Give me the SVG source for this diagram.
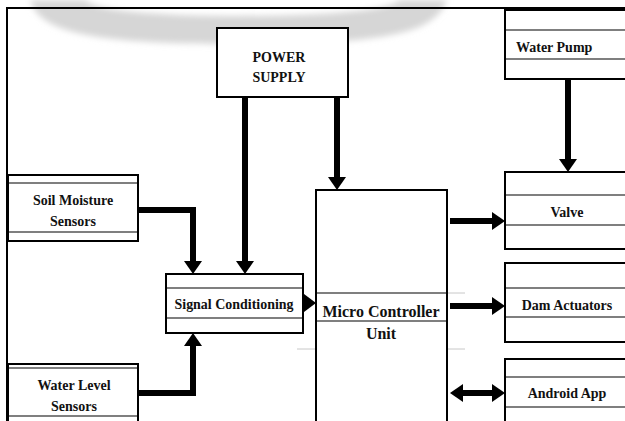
<svg xmlns="http://www.w3.org/2000/svg" width="625" height="421" viewBox="0 0 625 421">
<style>
.box{fill:#fff;stroke:#000;stroke-width:2}
.in{stroke:#000;stroke-width:1.2;fill:none}
.faint{stroke:#c8c8c8;stroke-width:1;fill:none}
.t{font-family:"Liberation Serif","Times New Roman",serif;font-weight:bold;font-size:14px;fill:#111;text-anchor:middle}
.big{font-size:16px}
.con{stroke:#000;stroke-width:6;fill:none}
</style>
<defs>
<filter id="blur" x="-10%" y="-50%" width="120%" height="200%"><feGaussianBlur stdDeviation="3"/></filter>
<marker id="ah" markerUnits="userSpaceOnUse" markerWidth="14" markerHeight="18" refX="0" refY="9" orient="auto-start-reverse">
<path d="M0,0 L13,9 L0,18 Z" fill="#000"/>
</marker>
</defs>
<rect width="625" height="421" fill="#fff"/>
<path d="M30,0 C40,30 80,44 240,44 C400,44 435,30 447,0 L400,0 C390,10 330,16 240,16 C150,16 95,10 85,0 Z" fill="#d6d6d6" filter="url(#blur)"/>
<path d="M7,421 V8 H625" fill="none" stroke="#000" stroke-width="2"/>

<g id="power-supply">
<rect class="box" x="217" y="28" width="131" height="69"/>
<text class="t" x="279" y="62">POWER</text>
<text class="t" x="279" y="82">SUPPLY</text>
</g>

<g id="water-pump">
<rect class="box" x="505" y="10" width="130" height="69"/>
<line class="in" x1="505" y1="30" x2="625" y2="30"/>
<line class="in" x1="505" y1="59" x2="625" y2="59"/>
<text class="t" x="516" y="52" style="text-anchor:start">Water Pump</text>
</g>

<g id="soil-moisture-sensors">
<rect class="box" x="8" y="175" width="130" height="66"/>
<line class="in" x1="8" y1="183" x2="138" y2="183"/>
<line class="in" x1="8" y1="232" x2="138" y2="232"/>
<text class="t" x="73" y="205">Soil Moisture</text>
<text class="t" x="73" y="226">Sensors</text>
</g>

<g id="water-level-sensors">
<rect class="box" x="8" y="364" width="130" height="64"/>
<line class="in" x1="8" y1="368" x2="138" y2="368"/>
<line class="in" x1="8" y1="416" x2="138" y2="416"/>
<text class="t" x="74" y="390">Water Level</text>
<text class="t" x="74" y="411">Sensors</text>
</g>

<g id="signal-conditioning">
<rect class="box" x="166" y="274" width="137" height="59"/>
<line class="in" x1="166" y1="288" x2="303" y2="288"/>
<line class="in" x1="166" y1="318" x2="303" y2="318"/>
<text class="t" x="234" y="309" textLength="119" lengthAdjust="spacingAndGlyphs">Signal Conditioning</text>
</g>

<g id="micro-controller-unit">
<line class="faint" x1="297" y1="349" x2="316" y2="349"/>
<line class="faint" x1="447" y1="349" x2="465" y2="349"/>
<line class="faint" x1="447" y1="293" x2="465" y2="293"/>
<rect class="box" x="316" y="190" width="131" height="240"/>
<line class="in" x1="316" y1="293" x2="447" y2="293"/>
<line class="in" x1="316" y1="321" x2="447" y2="321"/>
<text class="t big" x="381" y="317">Micro Controller</text>
<text class="t big" x="381" y="339">Unit</text>
</g>

<g id="valve">
<rect class="box" x="505" y="172" width="130" height="77"/>
<line class="in" x1="505" y1="195" x2="625" y2="195"/>
<line class="in" x1="505" y1="225" x2="625" y2="225"/>
<text class="t" x="567" y="217">Valve</text>
</g>

<g id="dam-actuators">
<rect class="box" x="505" y="263" width="130" height="79"/>
<line class="in" x1="505" y1="288" x2="625" y2="288"/>
<line class="in" x1="505" y1="317" x2="625" y2="317"/>
<text class="t" x="567" y="310">Dam Actuators</text>
</g>

<g id="android-app">
<rect class="box" x="505" y="359" width="130" height="70"/>
<line class="in" x1="505" y1="377" x2="625" y2="377"/>
<line class="in" x1="505" y1="407" x2="625" y2="407"/>
<text class="t" x="567" y="398">Android App</text>
</g>

<g id="connectors">
<path class="con" d="M245,97 V261" marker-end="url(#ah)"/>
<path class="con" d="M337,97 V177" marker-end="url(#ah)"/>
<path class="con" d="M137,210 H193 V261" marker-end="url(#ah)"/>
<path class="con" d="M137,393 H193 V346" marker-end="url(#ah)"/>
<polygon points="304,294 316,303 304,312" fill="#000"/>
<path class="con" d="M568,79 V159" marker-end="url(#ah)"/>
<path class="con" d="M450,221 H492" marker-end="url(#ah)"/>
<path class="con" d="M450,306 H492" marker-end="url(#ah)"/>
<path class="con" d="M463,393 H492" marker-start="url(#ah)" marker-end="url(#ah)"/>
</g>
</svg>
